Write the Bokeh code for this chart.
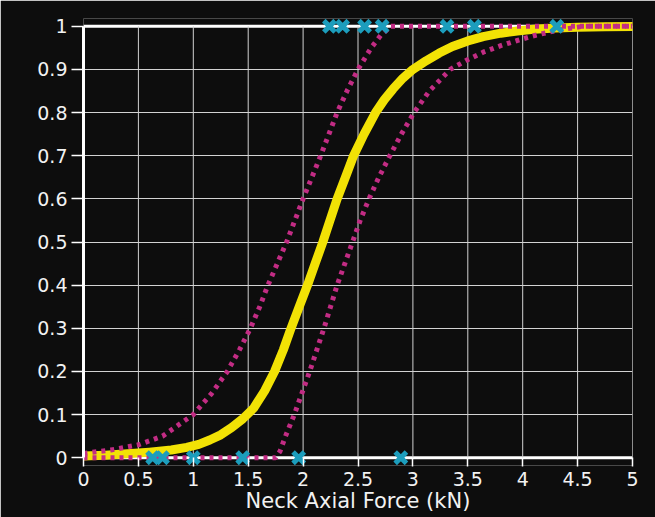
from bokeh.plotting import figure
from bokeh.models import Range1d, FixedTicker, Span
from bokeh.embed import file_html
from bokeh.resources import INLINE

# ---- data ----
# best-fit injury-risk curve (yellow)
fit_x = [0, 0.2, 0.4, 0.6, 0.8, 0.94, 1.05, 1.15, 1.25, 1.35, 1.45, 1.55, 1.65,
         1.74, 1.82, 1.89, 1.965, 2.04, 2.11, 2.18, 2.245, 2.31, 2.385, 2.46,
         2.555, 2.66, 2.74, 2.82, 2.91, 3.0, 3.12, 3.24, 3.36, 3.5, 3.64, 3.8,
         3.95, 4.1, 4.3, 4.5, 4.75, 5.0]
fit_y = [0.004, 0.006, 0.009, 0.013, 0.018, 0.024, 0.031, 0.041, 0.053, 0.07,
         0.09, 0.115, 0.155, 0.2, 0.25, 0.3, 0.35, 0.4, 0.45, 0.5, 0.55, 0.6,
         0.65, 0.7, 0.75, 0.8, 0.83, 0.855, 0.88, 0.9, 0.92, 0.938, 0.953, 0.966,
         0.976, 0.984, 0.989, 0.993, 0.996, 0.998, 0.999, 0.9995]

# upper confidence bound (magenta, left)
upper_x = [0, 0.25, 0.5, 0.72, 1.0, 1.17, 1.31, 1.42, 1.52, 1.605, 1.68, 1.765,
           1.85, 1.925, 2.0, 2.08, 2.16, 2.235, 2.31, 2.4, 2.5, 2.62, 2.71, 2.8, 5.0]
upper_y = [0.01, 0.018, 0.03, 0.05, 0.1, 0.15, 0.2, 0.25, 0.3, 0.35, 0.4, 0.45,
           0.5, 0.55, 0.6, 0.65, 0.7, 0.75, 0.8, 0.85, 0.9, 0.95, 0.98, 1.0, 1.0]

# lower confidence bound (magenta, right)
lower_x = [0, 1.75, 1.79, 1.84, 1.92, 1.99, 2.06, 2.125, 2.19, 2.25, 2.31, 2.38,
           2.45, 2.52, 2.6, 2.69, 2.79, 2.895, 3.01, 3.15, 3.34, 3.48, 3.64, 3.8,
           3.95, 4.1, 4.25, 4.4, 4.55, 5.0]
lower_y = [0, 0, 0.015, 0.05, 0.1, 0.15, 0.2, 0.25, 0.3, 0.35, 0.4, 0.45,
           0.5, 0.55, 0.6, 0.65, 0.7, 0.75, 0.8, 0.85, 0.9, 0.92, 0.94, 0.955,
           0.967, 0.978, 0.987, 0.994, 1.0, 1.0]

# observed tests: no injury (0) and injury (1)
no_injury_x = [0.63, 0.72, 1.0, 1.45, 1.96, 2.89]
no_injury_y = [0, 0, 0, 0, 0, 0]
injury_x = [2.24, 2.36, 2.56, 2.72, 3.31, 3.56, 4.31]
injury_y = [1, 1, 1, 1, 1, 1, 1]

x_ticks = [0, 0.5, 1, 1.5, 2, 2.5, 3, 3.5, 4, 4.5, 5]
x_tick_labels = ["0", "0.5", "1", "1.5", "2", "2.5", "3", "3.5", "4", "4.5", "5"]
y_ticks = [0, 0.1, 0.2, 0.3, 0.4, 0.5, 0.6, 0.7, 0.8, 0.9, 1]
y_tick_labels = ["0", "0.1", "0.2", "0.3", "0.4", "0.5", "0.6", "0.7", "0.8", "0.9", "1"]
x_title = "Neck Axial Force (kN)"

# ---- styling ----
BG = "#0d0d0d"
GRID = "#d2d2d2"
YELLOW = "#f2e205"
MAGENTA = "#c22c84"
TEAL = "#1c9dbc"
TXT = "#f2f2f2"
FONT = "DejaVu Sans"

p = figure(width=655, height=517, output_backend="svg", toolbar_location=None,
           x_range=Range1d(0, 5), y_range=Range1d(-0.018, 1.018),
           min_border_left=83, min_border_right=23, min_border_top=18,
           min_border_bottom=52,
           background_fill_color=BG, border_fill_color=BG, outline_line_color=None)

# horizontal grid
p.xgrid.visible = False
p.ygrid.ticker = FixedTicker(ticks=y_ticks)
p.ygrid.grid_line_color = GRID
p.ygrid.grid_line_width = 1

# vertical grid, limited to the 0..1 band
p.segment(x0=x_ticks, y0=[y_ticks[0]] * len(x_ticks),
          x1=x_ticks, y1=[y_ticks[-1]] * len(x_ticks),
          line_color=GRID, line_width=1)

# white base lines at 0 and 1
p.add_layout(Span(location=y_ticks[0], dimension="width", line_color="white",
                  line_width=3, level="underlay"))
p.add_layout(Span(location=y_ticks[-1], dimension="width", line_color="white",
                  line_width=3, level="underlay"))

# curves
p.line(fit_x, fit_y, line_color=YELLOW, line_width=9, line_cap="round",
       line_join="round")
p.line(upper_x, upper_y, line_color=MAGENTA, line_width=5, line_dash="4 5")
p.line(lower_x, lower_y, line_color=MAGENTA, line_width=5, line_dash="4 5")

# observations
p.scatter(no_injury_x, no_injury_y, marker="x", size=16, line_width=5,
          line_color=TEAL)
p.scatter(injury_x, injury_y, marker="x", size=16, line_width=5,
          line_color=TEAL)

# y axis
yax = p.yaxis[0]
yax.ticker = FixedTicker(ticks=y_ticks)
yax.major_label_overrides = dict(zip(y_ticks, y_tick_labels))
yax.bounds = (y_ticks[0], y_ticks[-1])
yax.axis_line_color = "white"
yax.axis_line_width = 3
yax.major_tick_out = 12
yax.major_tick_in = 0
yax.major_tick_line_color = "white"
yax.major_tick_line_width = 1.5
yax.minor_tick_line_color = None
yax.major_label_standoff = 4
yax.major_label_text_color = TXT
yax.major_label_text_font = FONT
yax.major_label_text_font_size = "19px"

# x axis
xax = p.xaxis[0]
xax.ticker = FixedTicker(ticks=x_ticks)
xax.major_label_overrides = dict(zip(x_ticks, x_tick_labels))
xax.axis_line_color = None
xax.major_tick_in = 8
xax.major_tick_out = 1
xax.major_tick_line_color = "white"
xax.major_tick_line_width = 1.5
xax.minor_tick_line_color = None
xax.major_label_standoff = 5
xax.major_label_text_color = TXT
xax.major_label_text_font = FONT
xax.major_label_text_font_size = "19px"
xax.axis_label = x_title
xax.axis_label_text_color = TXT
xax.axis_label_text_font = FONT
xax.axis_label_text_font_size = "21px"
xax.axis_label_text_font_style = "normal"
xax.axis_label_standoff = 0

with open("out.html", "w") as f:
    f.write(file_html(p, INLINE))
